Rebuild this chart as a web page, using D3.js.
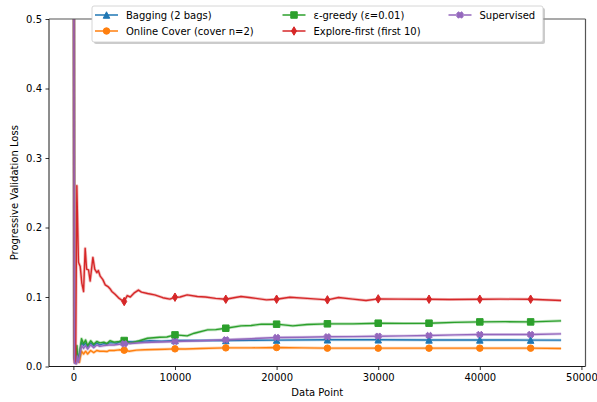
<!DOCTYPE html>
<html><head><meta charset="utf-8">
<script src="https://cdn.jsdelivr.net/npm/d3@7"></script>
<style>body{margin:0;background:#fff} svg{display:block} text{font-family:"DejaVu Sans",sans-serif;fill:#000}</style>
</head><body><svg id="c" width="597" height="402"></svg>
<script>
// ---- data (x = data point, y = progressive validation loss) ----
const labels = ["Bagging (2 bags)", "Online Cover (cover n=2)", "ε-greedy (ε=0.01)", "Explore-first (first 10)", "Supervised"];
const colors = ["#1f77b4", "#ff7f0e", "#2ca02c", "#d62728", "#9467bd"];
const markers = ["triangle", "circle", "square", "thindiamond", "xfilled"];
const xTicks = [0, 10000, 20000, 30000, 40000, 50000];
const yTicks = [0, 0.1, 0.2, 0.3, 0.4, 0.5];

const bagging = [[0,1.0],[100,0.01],[300,0.008],[400,0.02],[500,0.01],[800,0.035],[1000,0.03],[1200,0.034],[1400,0.028],[1700,0.034],[2000,0.03],[2300,0.034],[2600,0.031],[3000,0.033],[3300,0.032],[3500,0.034],[4000,0.034],[4300,0.0335],[4500,0.035],[5000,0.036],[6000,0.0355],[7500,0.037],[8700,0.0365],[10000,0.0374],[12500,0.0375],[15000,0.0374],[17500,0.0378],[20000,0.038],[25000,0.0384],[30000,0.0384],[35000,0.0382],[40000,0.0382],[45000,0.038],[48000,0.0379]];
const onlineCover = [[0,1.0],[100,0.006],[300,0.005],[400,0.01],[600,0.006],[800,0.022],[1000,0.018],[1200,0.022],[1400,0.018],[1700,0.023],[2000,0.02],[2300,0.023],[2600,0.022],[3000,0.022],[3300,0.0215],[3500,0.023],[4000,0.023],[4500,0.024],[5000,0.0235],[5500,0.022],[6200,0.0235],[7000,0.024],[8000,0.0245],[9000,0.0248],[10000,0.0254],[11000,0.0252],[12500,0.026],[15000,0.0268],[17500,0.0268],[20000,0.0273],[22500,0.0268],[25000,0.0264],[30000,0.0264],[35000,0.0264],[40000,0.0264],[45000,0.0264],[48000,0.026]];
const epsGreedy = [[0,1.0],[100,0.012],[250,0.01],[350,0.03],[420,0.012],[600,0.015],[800,0.04],[1000,0.033],[1200,0.038],[1400,0.03],[1700,0.037],[2000,0.032],[2300,0.036],[2600,0.034],[3000,0.035],[3300,0.033],[3600,0.037],[4000,0.035],[4500,0.036],[5000,0.0374],[5600,0.0336],[6500,0.037],[7300,0.0407],[8500,0.042],[9200,0.0425],[10000,0.0455],[11200,0.0441],[11900,0.0479],[13200,0.0527],[14000,0.053],[15000,0.0551],[16500,0.0585],[17500,0.059],[18500,0.0609],[20000,0.0609],[21600,0.0585],[23000,0.0605],[25000,0.0614],[27500,0.0614],[30000,0.0623],[32500,0.062],[35000,0.0623],[37500,0.0635],[40000,0.0642],[42500,0.0645],[45000,0.0642],[48000,0.0657]];
const exploreFirst = [[0,1.0],[100,0.01],[220,0.005],[340,0.26],[500,0.15],[670,0.144],[830,0.12],[1000,0.108],[1160,0.17],[1300,0.14],[1490,0.139],[1650,0.123],[1920,0.157],[2100,0.14],[2310,0.135],[2450,0.138],[2640,0.13],[2900,0.125],[3130,0.1175],[3400,0.115],[3600,0.112],[3780,0.108],[4100,0.104],[4440,0.0988],[4800,0.095],[5000,0.0935],[5300,0.102],[5600,0.1],[6000,0.106],[6400,0.11],[6700,0.107],[7300,0.105],[8000,0.103],[8800,0.099],[9500,0.097],[10000,0.0997],[10500,0.1],[11200,0.103],[12200,0.1007],[13000,0.1],[14000,0.098],[15000,0.0968],[15800,0.099],[16500,0.1007],[17500,0.099],[19000,0.0959],[20000,0.0968],[21300,0.0997],[23000,0.098],[25000,0.0959],[26100,0.0992],[27500,0.097],[28800,0.0949],[30000,0.0973],[32000,0.097],[35000,0.0968],[37000,0.0965],[40000,0.0968],[42000,0.097],[45000,0.0968],[48000,0.0949]];
const supervised = [[0,1.0],[100,0.005],[300,0.004],[400,0.015],[500,0.006],[800,0.03],[1000,0.026],[1200,0.03],[1400,0.025],[1700,0.031],[2000,0.027],[2300,0.031],[2600,0.029],[3000,0.03],[3500,0.031],[4000,0.031],[4500,0.032],[5000,0.0326],[6000,0.0335],[7000,0.0345],[8500,0.0352],[10000,0.036],[12500,0.037],[15000,0.0384],[17500,0.04],[20000,0.0417],[22500,0.042],[25000,0.0427],[27500,0.043],[30000,0.0436],[32500,0.044],[35000,0.0446],[37500,0.0455],[40000,0.046],[42500,0.046],[45000,0.046],[48000,0.047]];
const series = [bagging, onlineCover, epsGreedy, exploreFirst, supervised];
const markEvery = 5000;

// ---- layout ----
const svg = d3.select("#c");
const L = 49, R = 585.5, T = 19, B = 366.5;
const x = d3.scaleLinear().domain([-2400, 50400]).range([L, R]);
const y = d3.scaleLinear().domain([0, 0.5]).range([B, T]);

svg.append("defs").append("clipPath").attr("id", "clip")
  .append("rect").attr("x", L).attr("y", T).attr("width", R - L).attr("height", B - T);

function markerPath(type, s) {
  const h = s / 2;
  switch (type) {
    case "triangle": return `M0,${-h}L${h},${h}L${-h},${h}Z`;
    case "circle": return d3.arc()({innerRadius:0, outerRadius:h, startAngle:0, endAngle:2*Math.PI});
    case "square": return `M${-h},${-h}H${h}V${h}H${-h}Z`;
    case "thindiamond": { const a = h * 1.3, w = a * 0.6; return `M0,${-a}L${w},0L0,${a}L${-w},0Z`; }
    case "xfilled": { const e = h * 1.0, t = h * 0.55;
      return `M${-e+t},${-e}L0,${-t}L${e-t},${-e}L${e},${-e+t}L${t},0L${e},${e-t}L${e-t},${e}L0,${t}L${-e+t},${e}L${-e},${e-t}L${-t},0L${-e},${-e+t}Z`; }
  }
}

// ---- axes ----
const xAxis = svg.append("g").attr("transform", `translate(0,${B})`)
  .call(d3.axisBottom(x).tickValues(xTicks).tickFormat(d => String(d)).tickSize(3.5).tickPadding(3.5));
const yAxis = svg.append("g").attr("transform", `translate(${L},0)`)
  .call(d3.axisLeft(y).tickValues(yTicks).tickFormat(d3.format(".1f")).tickSize(3.5).tickPadding(3.5));
[xAxis, yAxis].forEach(g => {
  g.select(".domain").remove();
  g.selectAll("text").attr("font-size", 10).attr("font-family", "DejaVu Sans").attr("fill", "#000");
  g.selectAll("line").attr("stroke", "#000").attr("stroke-width", 0.8);
});

// ---- lines & markers ----
const plot = svg.append("g").attr("clip-path", "url(#clip)");
const line = d3.line().x(d => x(d[0])).y(d => y(d[1]));
series.forEach((s, i) => {
  plot.append("path").attr("d", line(s)).attr("fill", "none")
    .attr("stroke", colors[i]).attr("stroke-opacity", 0.3).attr("stroke-width", 3).attr("stroke-linejoin", "round");
  plot.append("path").attr("d", line(s)).attr("fill", "none")
    .attr("stroke", colors[i]).attr("stroke-width", 1.4).attr("stroke-linejoin", "round");
  plot.selectAll(null).data(s.filter(d => d[0] > 0 && d[0] % markEvery === 0)).enter()
    .append("path").attr("d", markerPath(markers[i], 6.5))
    .attr("transform", d => `translate(${x(d[0])},${y(d[1])})`)
    .attr("fill", colors[i]).attr("stroke", colors[i]).attr("stroke-width", 1);
});

// ---- spines ----
svg.append("line").attr("x1", L).attr("x2", L).attr("y1", T).attr("y2", B).attr("stroke", "#000").attr("stroke-width", 0.9);
svg.append("line").attr("x1", L).attr("x2", R).attr("y1", B).attr("y2", B).attr("stroke", "#000").attr("stroke-width", 0.9);
svg.append("line").attr("x1", L).attr("x2", R).attr("y1", T).attr("y2", T).attr("stroke", "#555").attr("stroke-width", 1.2);
svg.append("line").attr("x1", R).attr("x2", R).attr("y1", T).attr("y2", B).attr("stroke", "#555").attr("stroke-width", 1.2);

// ---- axis labels ----
svg.append("text").attr("x", (L + R) / 2).attr("y", 396).attr("text-anchor", "middle").attr("font-size", 10).text("Data Point");
svg.append("text").attr("transform", `translate(18,${(T + B) / 2}) rotate(-90)`).attr("text-anchor", "middle").attr("font-size", 10).text("Progressive Validation Loss");

// ---- legend ----
const lg = svg.append("g");
lg.append("rect").attr("x", 94).attr("y", 8).attr("width", 451).attr("height", 36).attr("rx", 2).attr("fill", "#999").attr("opacity", 0.5);
lg.append("rect").attr("x", 92).attr("y", 6).attr("width", 451).attr("height", 36).attr("rx", 2).attr("fill", "#fff").attr("stroke", "#ccc").attr("stroke-width", 0.8);
const colX = [95, 282.5, 448.5];
const rowY = [15, 31];
labels.forEach((lab, i) => {
  const cx = colX[Math.floor(i / 2)], cy = rowY[i % 2];
  const g = lg.append("g");
  g.append("line").attr("x1", cx).attr("x2", cx + 23).attr("y1", cy).attr("y2", cy).attr("stroke", colors[i]).attr("stroke-width", 1.5);
  g.append("path").attr("d", markerPath(markers[i], 6.5)).attr("transform", `translate(${cx + 11.5},${cy})`)
    .attr("fill", colors[i]).attr("stroke", colors[i]).attr("stroke-width", 1);
  g.append("text").attr("x", cx + 31).attr("y", cy).attr("dy", "0.35em").attr("font-size", 10).text(lab);
});
</script>
</body></html>
